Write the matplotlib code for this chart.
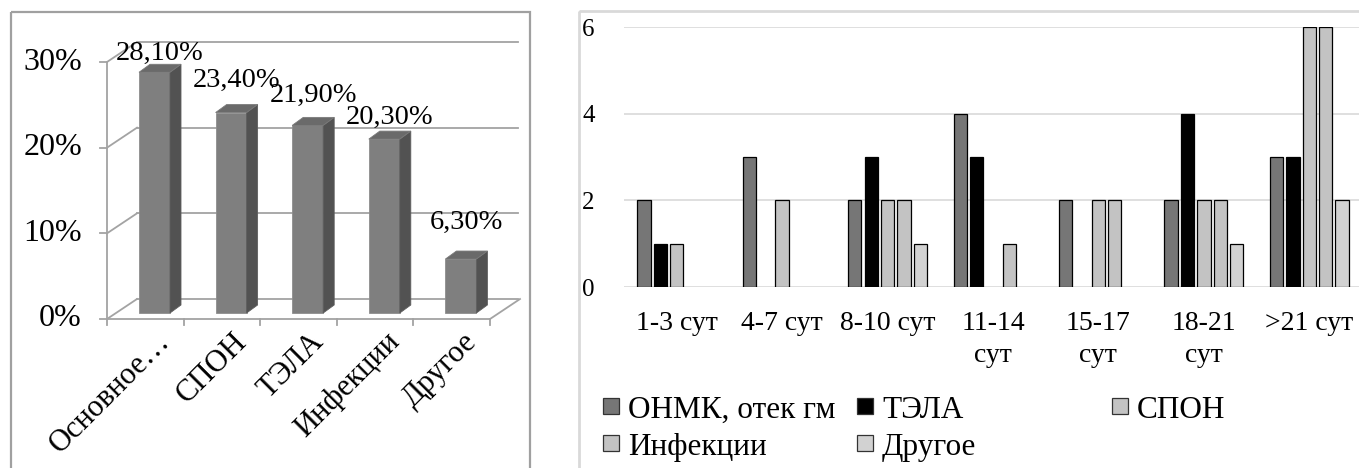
import numpy as np
import matplotlib.pyplot as plt
from matplotlib.patches import Polygon, Rectangle

plt.rcParams['font.family'] = ['Liberation Serif', 'DejaVu Serif']

# left chart: structure of causes
causes = ['Основное…', 'СПОН', 'ТЭЛА', 'Инфекции', 'Другое']
cause_pct = [28.1, 23.4, 21.9, 20.3, 6.3]
cause_labels = ['28,10%', '23,40%', '21,90%', '20,30%', '6,30%']
pct_ticks = [0, 10, 20, 30]

# right chart: counts by length of stay
periods = ['1-3 сут', '4-7 сут', '8-10 сут', '11-14\nсут', '15-17\nсут', '18-21\nсут', '>21 сут']
series_names = ['ОНМК, отек гм', 'ТЭЛА', 'СПОН', 'Инфекции', 'Другое']
onmk = [2, 3, 2, 4, 2, 2, 3]
tela = [1, 0, 3, 3, 0, 4, 3]
spon = [1, 2, 2, 0, 2, 2, 6]
infections = [0, 0, 2, 1, 2, 2, 6]
other = [0, 0, 1, 0, 0, 1, 2]
count_ticks = [0, 2, 4, 6]

series = [onmk, tela, spon, infections, other]
series_colors = ['#767676', '#000000', '#c3c3c3', '#c3c3c3', '#d2d2d2']

W, H = 1359, 468
fig = plt.figure(figsize=(W / 100, H / 100), dpi=100)


def px_axes(x0, y0, x1, y1):
    # pixel box (origin top-left) -> figure axes
    return fig.add_axes([x0 / W, 1 - y1 / H, (x1 - x0) / W, (y1 - y0) / H])


# overlay in pixel coordinates for panel frames and the legend
over = fig.add_axes([0, 0, 1, 1])
over.set_xlim(0, W)
over.set_ylim(H, 0)
over.axis('off')
over.add_patch(Rectangle((11, 12), 519, 470, fill=False, ec='#a0a0a0', lw=1.6))
over.add_patch(Rectangle((579, 11), 800, 470, fill=False, ec='#d9d9d9', lw=2))

# ---------------- left: pseudo 3D bars ----------------
axL = px_axes(107, 62, 490, 319)
axL.set_xlim(0, len(causes))
axL.set_ylim(0, 30)
axL.axis('off')
xu = 383 / len(causes)   # px per category
yu = 257 / 30            # px per percent


def dx(p):
    return p / xu


def dy(p):
    return p / yu


grid_kw = dict(color='#a3a3a3', lw=1.3, clip_on=False, zorder=1)
wall_dx, wall_dy = dx(30), dy(20)
wall_end = len(causes) + dx(28)
for v in pct_ticks:
    axL.plot([wall_dx, wall_end], [v + wall_dy] * 2, **grid_kw)
    axL.plot([0, wall_dx], [v, v + wall_dy], **grid_kw)
    axL.plot([-dx(7), 0], [v, v], **grid_kw)
    axL.text(-dx(25), v, f'{v}%', ha='right', va='center', fontsize=23)
axL.plot([0, 0], [0, 30], **grid_kw)
axL.plot([0, len(causes)], [0, 0], **grid_kw)
axL.plot([len(causes), len(causes) + wall_dx], [0, wall_dy], **grid_kw)
for i in range(len(causes) + 1):
    axL.plot([i, i], [0, -dy(6)], **grid_kw)

face_l, face_w = dx(32), dx(31)
base = dy(6)
ddx, ddy = dx(11), dy(8)
label_lift_px = [19, 32, 30, 22, 37]
for i, v in enumerate(cause_pct):
    L = i + face_l
    R = L + face_w
    top = base + v
    axL.add_patch(Rectangle((L, base), face_w, v, fc='#7f7f7f', ec='#8e8e8e', lw=0.6,
                            clip_on=False, zorder=3))
    axL.add_patch(Polygon([(R, base), (R + ddx, base + ddy), (R + ddx, top + ddy), (R, top)],
                          fc='#525252', ec='#5e5e5e', lw=0.6, clip_on=False, zorder=3))
    axL.add_patch(Polygon([(L, top), (R, top), (R + ddx, top + ddy), (L + ddx, top + ddy)],
                          fc='#6a6a6a', ec='#7a7a7a', lw=0.6, clip_on=False, zorder=3))
    axL.text(L + face_w / 2 + ddx / 2, top + dy(label_lift_px[i]), cause_labels[i],
             ha='center', va='center', fontsize=20.5, zorder=4)
    axL.text(i + 0.5 + dx(26), -dy(24), causes[i], rotation=45, rotation_mode='anchor',
             ha='right', va='baseline', fontsize=22)

# ---------------- right: grouped bars ----------------
axR = px_axes(624, 27, 1362, 287)
x = np.arange(len(periods))
step = 16.4 / 105.5
width = 13.3 / 105.5
for k, (vals, c) in enumerate(zip(series, series_colors)):
    vals = np.asarray(vals, dtype=float)
    pos = x + (k - 2) * step
    m = vals > 0
    axR.bar(pos[m], vals[m], width, color=c, edgecolor='black', linewidth=0.9, zorder=3)

axR.set_xlim(-0.5, len(periods) - 0.5)
axR.set_ylim(0, 6)
axR.set_yticks(count_ticks)
axR.set_yticklabels([str(t) for t in count_ticks], fontsize=18)
axR.set_xticks(x)
axR.set_xticklabels(periods, fontsize=20, linespacing=1.4)
axR.tick_params(axis='y', length=0, pad=21)
axR.tick_params(axis='x', length=0, pad=17)
axR.yaxis.grid(True, color='#d9d9d9', lw=1.2, zorder=0)
axR.set_axisbelow(True)
for s in axR.spines.values():
    s.set_visible(False)

# legend, three equal columns like the original
col_x = [603, 857, 1112]
row_top = [398, 435]
for k, (name, c) in enumerate(zip(series_names, series_colors)):
    cx = col_x[k % 3]
    ry = row_top[k // 3]
    over.add_patch(Rectangle((cx, ry), 16, 16, fc=c, ec='#333333', lw=0.9))
    over.text(cx + 25, ry + 20, name, ha='left', va='baseline', fontsize=22.5)

fig.savefig('out.png', dpi=100)
